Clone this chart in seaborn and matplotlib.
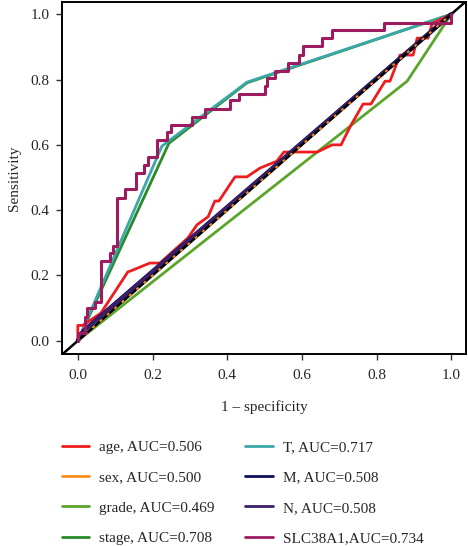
# ROC curves of clinical features and SLC38A1
import numpy as np
import pandas as pd
import matplotlib
matplotlib.use("Agg")
import matplotlib.pyplot as plt
import seaborn as sns
from matplotlib.lines import Line2D

# ================= DATA =================

age_fpr = [0.0, 0.0, 0.013, 0.062, 0.134, 0.142, 0.193, 0.22, 0.295, 0.319, 0.349, 0.367, 0.378,
           0.421, 0.453, 0.488, 0.533, 0.552, 0.641, 0.681, 0.705, 0.729, 0.764, 0.785, 0.823,
           0.836, 0.863, 0.898, 0.909, 0.938, 0.949, 1.0]
age_tpr = [0.0, 0.047, 0.047, 0.085, 0.211, 0.214, 0.238, 0.238, 0.315, 0.355, 0.38, 0.428, 0.428,
           0.502, 0.502, 0.529, 0.55, 0.578, 0.578, 0.6, 0.6, 0.655, 0.725, 0.725, 0.795,
           0.795, 0.875, 0.875, 0.927, 0.927, 0.972, 1.0]

sex_fpr = [0.0, 1.0]
sex_tpr = [0.0, 1.0]

grade_fpr = [0.0, 0.882, 1.0]
grade_tpr = [0.0, 0.795, 1.0]

stage_fpr = [0.0, 0.244, 0.453, 1.0]
stage_tpr = [0.0, 0.605, 0.79, 1.0]

t_fpr = [0.0, 0.225, 0.453, 1.0]
t_tpr = [0.0, 0.596, 0.792, 1.0]

m_fpr = [0.0, 0.015, 1.0]
m_tpr = [0.0, 0.03, 1.0]

n_fpr = [0.0, 0.015, 1.0]
n_tpr = [0.0, 0.03, 1.0]

slc_fpr = [0.0, 0.0, 0.018, 0.024, 0.047, 0.062, 0.086, 0.093, 0.105, 0.125, 0.155, 0.176,
           0.188, 0.212, 0.239, 0.25, 0.305, 0.34, 0.407, 0.432, 0.501, 0.506, 0.528, 0.564,
           0.593, 0.602, 0.653, 0.68, 0.819, 1.0]
slc_tpr = [0.0, 0.024, 0.074, 0.10, 0.12, 0.243, 0.27, 0.29, 0.437, 0.465, 0.514, 0.538,
           0.564, 0.615, 0.638, 0.662, 0.686, 0.709, 0.737, 0.757, 0.78, 0.805, 0.826, 0.851,
           0.875, 0.902, 0.926, 0.951, 0.974, 1.0]

labels = ["age, AUC=0.506", "sex, AUC=0.500", "grade, AUC=0.469", "stage, AUC=0.708",
          "T, AUC=0.717", "M, AUC=0.508", "N, AUC=0.508", "SLC38A1,AUC=0.734"]
colors = ["#ee1c1c", "#ff8c1a", "#5ba52a", "#2a8a2a",
          "#3aa8a8", "#0e0e5c", "#3a1e6a", "#9c1c5f"]

# ================= FIGURE =================

sns.set_style("ticks")
plt.rcParams["font.family"] = ["Liberation Serif", "DejaVu Serif"]

fig = plt.figure(figsize=(4.68, 5.46), dpi=100)
ax = fig.add_axes([0.132, 0.352, 0.864, 0.644])

lw = 2.0
sns.lineplot(x=grade_fpr, y=grade_tpr, sort=False, estimator=None, color=colors[2], lw=lw, ax=ax)
sns.lineplot(x=stage_fpr, y=stage_tpr, sort=False, estimator=None, color=colors[3], lw=lw, ax=ax)
sns.lineplot(x=t_fpr, y=t_tpr, sort=False, estimator=None, color=colors[4], lw=lw, ax=ax)
sns.lineplot(x=age_fpr, y=age_tpr, sort=False, estimator=None, color=colors[0], lw=lw, ax=ax)
sns.lineplot(x=m_fpr, y=m_tpr, sort=False, estimator=None, color=colors[5], lw=3.2, ax=ax)
sns.lineplot(x=n_fpr, y=n_tpr, sort=False, estimator=None, color=colors[6], lw=2.6, ax=ax)

# reference diagonal
ax.axline((0, 0), (1, 1), color="black", lw=1.8)
sns.lineplot(x=sex_fpr, y=sex_tpr, sort=False, estimator=None, color=colors[1], lw=1.4,
             ax=ax).lines[-1].set_dashes([1.5, 3.5])

sns.lineplot(x=slc_fpr, y=slc_tpr, sort=False, estimator=None, color=colors[7], lw=2.2,
             drawstyle="steps-post", ax=ax)

ax.set_xlim(-0.043, 1.04)
ax.set_ylim(-0.04, 1.037)
ax.set_xticks([0.0, 0.2, 0.4, 0.6, 0.8, 1.0])
ax.set_yticks([0.0, 0.2, 0.4, 0.6, 0.8, 1.0])
ax.set_xticklabels(["0.0", "0.2", "0.4", "0.6", "0.8", "1.0"])
ax.set_yticklabels(["0.0", "0.2", "0.4", "0.6", "0.8", "1.0"])
ax.tick_params(labelsize=11, length=4, width=1, color="#333333", direction="out")
ax.tick_params(axis="x", pad=7)
ax.tick_params(axis="y", pad=5)
ax.set_xlabel("1 \u2013 specificity", fontsize=11, labelpad=13)
ax.set_ylabel("Sensitivity", fontsize=11, labelpad=7)

for side in ["top", "right", "bottom", "left"]:
    ax.spines[side].set_visible(True)
    ax.spines[side].set_color("black")
    ax.spines[side].set_linewidth(1.4)

# ================= LEGEND =================

handles = [Line2D([0], [0], color=c, lw=2) for c in colors]
fig.legend(handles, labels, loc="upper left", bbox_to_anchor=(0.132, 0.193),
           ncol=2, frameon=False, fontsize=11, borderpad=0, borderaxespad=0,
           handlelength=1.8, handletextpad=0.65, columnspacing=2.0, labelspacing=1.08)

fig.savefig("out.png", dpi=100)
